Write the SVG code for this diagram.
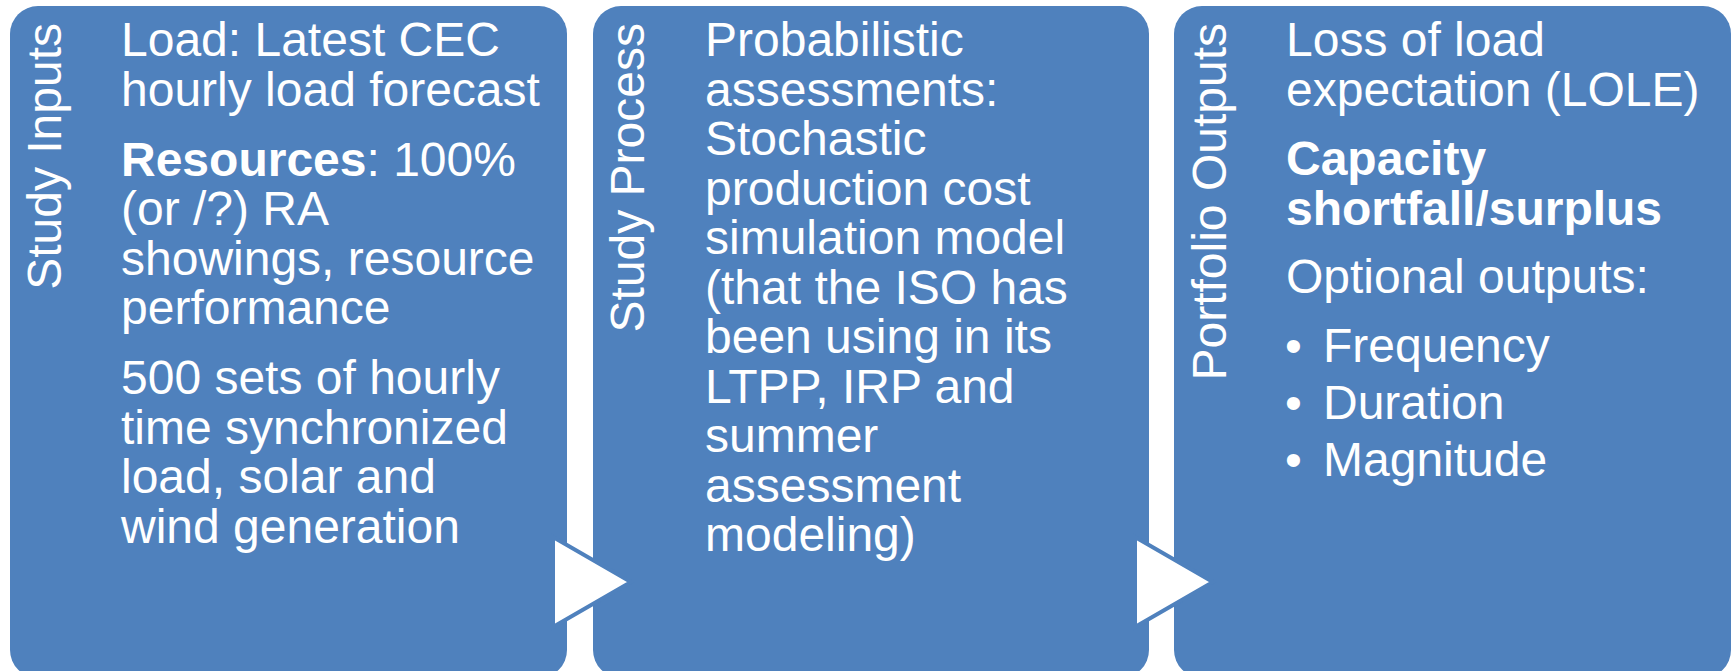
<svg xmlns="http://www.w3.org/2000/svg" width="1736" height="671" viewBox="0 0 1736 671">
<style>
.box{fill:#4F81BD;}
.t{font-family:"Liberation Sans",Arial,sans-serif;font-size:48px;fill:#FFFFFF;}
.b{font-weight:bold;}
.arrow{fill:#FFFFFF;stroke:#4F81BD;stroke-width:4;stroke-linejoin:miter;}
</style>
<rect x="0" y="0" width="1736" height="671" fill="#FFFFFF"/>
<g id="node-inputs">
<rect class="box" x="10" y="6" width="557" height="672" rx="28" ry="28"/>
<text class="t" transform="translate(61,23) rotate(-90)" text-anchor="end">Study Inputs</text>
<text class="t">
<tspan x="121" y="56">Load: Latest CEC</tspan>
<tspan x="121" y="105.5">hourly load forecast</tspan>
<tspan x="121" y="175.5"><tspan class="b">Resources</tspan>: 100%</tspan>
<tspan x="121" y="225">(or /?) RA</tspan>
<tspan x="121" y="274.5">showings, resource</tspan>
<tspan x="121" y="324">performance</tspan>
<tspan x="121" y="394">500 sets of hourly</tspan>
<tspan x="121" y="443.5">time synchronized</tspan>
<tspan x="121" y="493">load, solar and</tspan>
<tspan x="121" y="542.5">wind generation</tspan>
</text>
</g>
<g id="node-process">
<rect class="box" x="593" y="6" width="556" height="672" rx="28" ry="28"/>
<text class="t" transform="translate(644,23) rotate(-90)" text-anchor="end">Study Process</text>
<text class="t">
<tspan x="705" y="56">Probabilistic</tspan>
<tspan x="705" y="105.5">assessments:</tspan>
<tspan x="705" y="155">Stochastic</tspan>
<tspan x="705" y="204.5">production cost</tspan>
<tspan x="705" y="254">simulation model</tspan>
<tspan x="705" y="303.5">(that the ISO has</tspan>
<tspan x="705" y="353">been using in its</tspan>
<tspan x="705" y="402.5">LTPP, IRP and</tspan>
<tspan x="705" y="452">summer</tspan>
<tspan x="705" y="501.5">assessment</tspan>
<tspan x="705" y="551">modeling)</tspan>
</text>
</g>
<g id="node-outputs">
<rect class="box" x="1174" y="6" width="557" height="672" rx="28" ry="28"/>
<text class="t" transform="translate(1226,23) rotate(-90)" text-anchor="end">Portfolio Outputs</text>
<text class="t">
<tspan x="1286" y="56">Loss of load</tspan>
<tspan x="1286" y="105.5">expectation (LOLE)</tspan>
<tspan x="1286" y="175" class="b">Capacity</tspan>
<tspan x="1286" y="224.5" class="b">shortfall/surplus</tspan>
<tspan x="1286" y="293">Optional outputs:</tspan>
<tspan x="1285" y="362">•</tspan>
<tspan x="1323" y="362">Frequency</tspan>
<tspan x="1285" y="419">•</tspan>
<tspan x="1323" y="419">Duration</tspan>
<tspan x="1285" y="476">•</tspan>
<tspan x="1323" y="476">Magnitude</tspan>
</text>
</g>
<g id="connectors">
<polygon class="arrow" points="553,537 631,582 553,627"/>
<polygon class="arrow" points="1135,537 1213,582 1135,627"/>
</g>
</svg>
